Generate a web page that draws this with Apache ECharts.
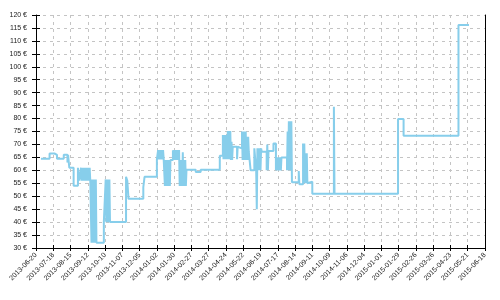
<!DOCTYPE html>
<html>
<head>
<meta charset="utf-8">
<script src="https://cdn.jsdelivr.net/npm/echarts@6/dist/echarts.min.js"></script>
<style>html,body{margin:0;padding:0;background:#fff}#c{width:500px;height:300px}</style>
</head>
<body>
<div id="c"></div>
<script>
const axisStart = '2013-06-20';
const axisEnd = '2015-06-18';
const tickStepDays = 28;
const yMin = 30, yMax = 120, yStep = 5;

const priceDates = [
'2013-06-28','2013-07-12','2013-07-20','2013-07-24','2013-08-04','2013-08-10','2013-08-11','2013-08-13','2013-08-20','2013-08-27',
'2013-08-28','2013-08-29','2013-09-01','2013-09-02','2013-09-03','2013-09-04','2013-09-05','2013-09-06','2013-09-07','2013-09-08',
'2013-09-09','2013-09-10','2013-09-11','2013-09-12','2013-09-13','2013-09-14','2013-09-15','2013-09-16','2013-09-18','2013-09-19',
'2013-09-20','2013-09-21','2013-09-22','2013-09-23','2013-09-24','2013-09-25','2013-09-26','2013-10-08','2013-10-11','2013-10-12',
'2013-10-13','2013-10-14','2013-10-15','2013-10-16','2013-10-17','2013-10-18','2013-11-13','2013-11-15','2013-11-17','2013-12-11',
'2013-12-13','2014-01-02','2014-01-04','2014-01-05','2014-01-06','2014-01-07','2014-01-08','2014-01-09','2014-01-10','2014-01-11',
'2014-01-12','2014-01-13','2014-01-15','2014-01-16','2014-01-17','2014-01-18','2014-01-19','2014-01-20','2014-01-21','2014-01-22',
'2014-01-23','2014-01-24','2014-01-28','2014-01-29','2014-01-30','2014-01-31','2014-02-01','2014-02-02','2014-02-03','2014-02-04',
'2014-02-05','2014-02-06','2014-02-07','2014-02-08','2014-02-09','2014-02-10','2014-02-11','2014-02-12','2014-02-13','2014-02-14',
'2014-02-15','2014-02-16','2014-02-17','2014-02-18','2014-02-19','2014-03-06','2014-03-14','2014-04-14','2014-04-19','2014-04-20',
'2014-04-21','2014-04-22','2014-04-23','2014-04-24','2014-04-25','2014-04-26','2014-04-27','2014-04-28','2014-04-29','2014-04-30',
'2014-05-01','2014-05-02','2014-05-03','2014-05-04','2014-05-05','2014-05-12','2014-05-13','2014-05-14','2014-05-20','2014-05-21',
'2014-05-22','2014-05-23','2014-05-24','2014-05-25','2014-05-26','2014-05-27','2014-05-28','2014-05-29','2014-05-30','2014-05-31',
'2014-06-03','2014-06-09','2014-06-12','2014-06-13','2014-06-14','2014-06-15','2014-06-16','2014-06-17','2014-06-18','2014-06-19',
'2014-06-20','2014-06-21','2014-06-29','2014-06-30','2014-07-01','2014-07-02','2014-07-10','2014-07-14','2014-07-15','2014-07-16',
'2014-07-17','2014-07-18','2014-07-19','2014-07-20','2014-07-21','2014-07-22','2014-07-23','2014-08-01','2014-08-02','2014-08-03',
'2014-08-04','2014-08-05','2014-08-06','2014-08-07','2014-08-08','2014-08-09','2014-08-20','2014-08-21','2014-08-27','2014-08-28',
'2014-08-29','2014-08-30','2014-08-31','2014-09-01','2014-09-02','2014-09-03','2014-09-04','2014-09-11','2014-10-16','2014-10-17',
'2015-01-28','2015-02-06','2015-05-06','2015-05-23'
];
const priceValues = [
64.5,66.5,66,64.5,66,63,66,61,54,61,
58,56,61,56,61,56,61,56,61,56,
61,56,61,56,61,56,61,56,32,56.5,
32,56.5,32,56.5,32,56.5,32,40,56.5,40,
56.5,40,56.5,40,56.5,40,57.5,56,49,53.5,
57.5,64.2,67.8,64.2,67.8,64.2,67.8,64.2,67.8,64.2,
67.8,64.5,54,64,54,64,54,64,54,64,
54,64,67.8,64,67.8,64,67.8,64,67.8,64,
67.8,64,67.8,54,64,54,64,54,67,54,
64,54,64,54,60.2,59.4,60.2,65.6,73.6,64.3,
73.6,64.3,73.6,64.3,73.6,64.3,75.2,64.3,75.2,64.3,
75.2,64,71,64,69.1,64.3,69.1,68.5,75,64,
75,64,75,64,75,64,73,64,73,67.2,
60,68.5,60,45,68.5,60,68.5,60,68.5,60,
68.5,67.2,60,70,60,67.5,70.4,60,65,60,
65,60,65,60,65,60,65,60,75,60,
79,60,79,60,79,55.4,59.7,54.6,70.4,55,
70.4,55,66.6,55,66.6,55,55.6,51,84.6,51,
79.8,73.4,116.1,116.1
];

const DAY = 86400000;
const t0 = Date.parse(axisStart);
const t1 = Date.parse(axisEnd);
const seriesData = priceDates.map((d, i) => [Date.parse(d), priceValues[i]]);
const fmtDate = v => new Date(v).toISOString().slice(0, 10);

const font = 'Liberation Sans';
const gridLine = { show: true, lineStyle: { color: '#c4c4c4', type: [3, 4], width: 1 } };

const chart = echarts.init(document.getElementById('c'), null, { renderer: 'canvas' });
chart.setOption({
  animation: false,
  backgroundColor: '#fff',
  grid: { left: 36, right: 15, top: 15, bottom: 52, containLabel: false },
  xAxis: [
    {
      type: 'value', position: 'bottom', min: t0, max: t1, interval: tickStepDays * DAY,
      axisLine: { show: true, lineStyle: { color: '#000', width: 1 } },
      axisTick: { show: true, length: 3, lineStyle: { color: '#000' } },
      axisLabel: { rotate: 45, fontSize: 7, fontFamily: font, color: '#222', margin: 6, formatter: fmtDate, showMinLabel: true, showMaxLabel: true },
      splitLine: gridLine
    },
    {
      type: 'value', position: 'bottom', min: t0, max: t1, interval: tickStepDays * DAY,
      axisLine: { show: false },
      axisTick: { show: true, inside: true, length: 3, lineStyle: { color: '#000' } },
      axisLabel: { show: false },
      splitLine: { show: false }
    }
  ],
  yAxis: [
    {
      type: 'value', position: 'left', min: yMin, max: yMax, interval: yStep,
      axisLine: { show: true, lineStyle: { color: '#000', width: 1 } },
      axisTick: { show: true, length: 4, lineStyle: { color: '#000' } },
      axisLabel: { fontSize: 7, fontFamily: font, color: '#222', margin: 9, formatter: '{value} €' },
      splitLine: gridLine
    },
    {
      type: 'value', position: 'left', min: yMin, max: yMax, interval: yStep,
      axisLine: { show: false },
      axisTick: { show: true, inside: true, length: 4, lineStyle: { color: '#000' } },
      axisLabel: { show: false },
      splitLine: { show: false }
    },
    {
      type: 'value', position: 'right', min: yMin, max: yMax, interval: yStep,
      axisLine: { show: true, lineStyle: { color: '#000', width: 1 } },
      axisTick: { show: false },
      axisLabel: { show: false },
      splitLine: { show: false }
    }
  ],
  series: [{
    type: 'line', xAxisIndex: 0, yAxisIndex: 0, step: 'end',
    data: seriesData, showSymbol: false, symbol: 'none',
    lineStyle: { color: '#87CEEB', width: 2 }
  }]
});
</script>
</body>
</html>
